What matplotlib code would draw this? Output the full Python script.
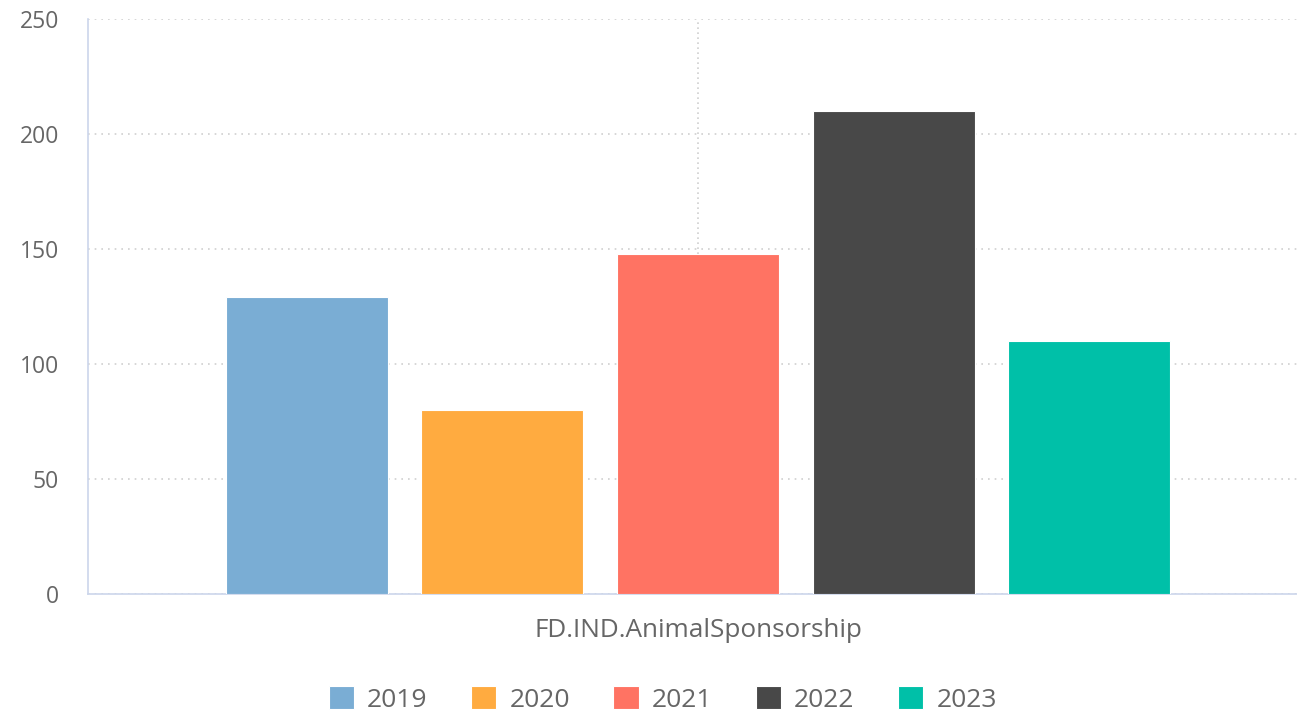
import numpy as np
import matplotlib.pyplot as plt

plt.rcParams['font.family'] = ['Open Sans', 'DejaVu Sans']

category = 'FD.IND.AnimalSponsorship'
years = ['2019', '2020', '2021', '2022', '2023']
values = [129, 80, 148, 210, 110]
colors = ['#7aadd4', '#ffab40', '#ff7363', '#484848', '#00c0a8']

text_color = '#666666'
axis_color = '#ccd6eb'
grid_color = '#cfcfcf'

fig = plt.figure(figsize=(12.97, 7.11), dpi=100)
ax = fig.add_axes([0.0678, 0.1646, 0.9407, 0.8087])

bar_w = 0.1328
step = 0.1603
offsets = (np.arange(len(years)) - 2) * step
for off, v, c, y in zip(offsets, values, colors, years):
    ax.bar(off, v, width=bar_w, color=c, edgecolor='white', linewidth=0.8,
           label=y, zorder=3)

ax.set_xlim(-0.5, 0.5)
ax.set_ylim(0, 250)
ax.set_yticks([0, 50, 100, 150, 200, 250])
ax.set_xticks([0])
ax.set_xticklabels([category])

ax.grid(axis='y', linestyle=(0, (1, 3)), color=grid_color, linewidth=1.2, zorder=0)
ax.grid(axis='x', linestyle=(0, (1, 2)), color=grid_color, linewidth=1.2, zorder=0)

for s in ['top', 'right']:
    ax.spines[s].set_visible(False)
for s in ['left', 'bottom']:
    ax.spines[s].set_color(axis_color)
    ax.spines[s].set_linewidth(1.2)

ax.tick_params(axis='y', length=0, pad=21, labelsize=16.5, labelcolor=text_color)
ax.tick_params(axis='x', length=0, pad=17, labelsize=18.8, labelcolor=text_color)

leg = fig.legend(loc='lower center', bbox_to_anchor=(0.511, -0.036), ncol=5,
                 frameon=False, fontsize=19, handlelength=0.95, handleheight=0.95,
                 handletextpad=0.5, columnspacing=1.65, labelcolor=text_color)

fig.savefig('out.png', dpi=100)
